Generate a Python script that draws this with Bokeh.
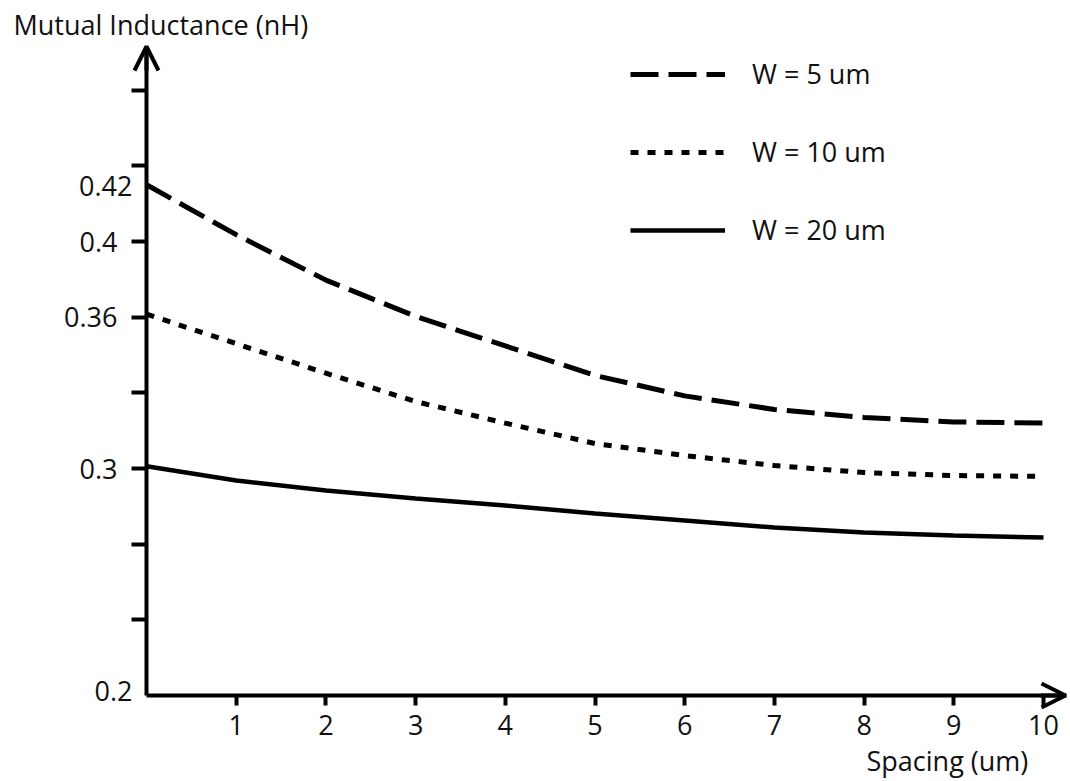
from bokeh.plotting import figure
from bokeh.models import Range1d, FixedTicker, Label, Arrow, OpenHead, Legend, LegendItem
from bokeh.embed import file_html
from bokeh.resources import INLINE

# ---- data ----
spacing_um = [0, 1, 2, 3, 4, 5, 6, 7, 8, 9, 10]
m_w5 = [0.425, 0.403, 0.383, 0.367, 0.354, 0.341, 0.332, 0.326, 0.3225, 0.3205, 0.320]
m_w10 = [0.368, 0.355, 0.342, 0.3295, 0.320, 0.311, 0.3057, 0.3013, 0.2982, 0.2969, 0.2965]
m_w20 = [0.301, 0.2947, 0.2903, 0.2868, 0.2837, 0.2802, 0.2771, 0.2740, 0.2718, 0.2705, 0.2696]
series_names = ["W = 5 um", "W = 10 um", "W = 20 um"]

x_ticks = [1, 2, 3, 4, 5, 6, 7, 8, 9, 10]
y_ticks = [round(0.2 + k / 30, 6) for k in range(1, 9)]
y_tick_labels = ["", "", "0.3", "", "0.36", "0.4", "", ""]
y_extra_labels = ["0.2", "0.42"]

x_title = "Spacing (um)"
y_title = "Mutual Inductance (nH)"

# ---- layout helpers (canvas pixel -> data); the frame fills the canvas ----
AX_LEFT, AX_BOTTOM = 146, 695
X_PX, Y_PX = 89.7, 2270.0


def px_x(px):
    return (px - AX_LEFT) / X_PX


def px_y(py):
    return 0.2 + (AX_BOTTOM - py) / Y_PX


y_extra_pos = [px_y(690), px_y(185)]

FONT = "Open Sans"
FS = "27px"
TXT = "#111111"

p = figure(width=1070, height=781,
           x_range=Range1d(px_x(0), px_x(1070)), y_range=Range1d(px_y(781), px_y(0)),
           output_backend="svg", toolbar_location=None,
           min_border_left=0, min_border_right=0,
           min_border_top=0, min_border_bottom=0)
p.outline_line_color = None
p.grid.visible = False
p.background_fill_color = "white"
p.border_fill_color = "white"

r5 = p.line(spacing_um, m_w5, line_color="black", line_width=5, line_dash="28 10")
r10 = p.line(spacing_um, m_w10, line_color="black", line_width=5, line_dash="8 9")
r20 = p.line(spacing_um, m_w20, line_color="black", line_width=4.5)

for ax in (p.xaxis, p.yaxis):
    ax.axis_line_width = 4
    ax.axis_line_color = "black"
    ax.major_tick_line_width = 4
    ax.major_tick_line_color = "black"
    ax.major_tick_in = 0
    ax.minor_tick_line_color = None
    ax.major_label_text_font = FONT
    ax.major_label_text_font_size = FS
    ax.major_label_text_color = TXT

p.xaxis.fixed_location = 0.2
p.xaxis.bounds = (0, px_x(1066))
p.xaxis.ticker = FixedTicker(ticks=x_ticks)
p.xaxis.major_tick_out = 10
p.xaxis.major_label_standoff = 9

p.yaxis.fixed_location = 0
p.yaxis.bounds = (0.2, px_y(46))
p.yaxis.ticker = FixedTicker(ticks=y_ticks)
p.yaxis.major_tick_out = 15
p.yaxis.major_label_standoff = 14
p.yaxis.major_label_overrides = dict(zip(y_ticks, y_tick_labels))

for txt, val in zip(y_extra_labels, y_extra_pos):
    p.add_layout(Label(x=px_x(132), y=val, text=txt, text_align="right",
                       text_baseline="middle", text_font=FONT,
                       text_font_size=FS, text_color=TXT))

p.add_layout(Label(x=px_x(13), y=px_y(24), text=y_title, text_align="left",
                   text_baseline="middle", text_font=FONT, text_font_size=FS,
                   text_color=TXT))
p.add_layout(Label(x=px_x(866), y=px_y(760), text=x_title, text_align="left",
                   text_baseline="middle", text_font=FONT, text_font_size=FS,
                   text_color=TXT))

# axis arrow heads
p.add_layout(Arrow(end=OpenHead(size=24, line_width=4, line_color="black"),
                   x_start=0, y_start=px_y(70), x_end=0, y_end=px_y(46),
                   line_width=4, line_color="black"))
p.add_layout(Arrow(end=OpenHead(size=24, line_width=4, line_color="black"),
                   x_start=px_x(1040), y_start=0.2, x_end=px_x(1065), y_end=0.2,
                   line_width=4, line_color="black"))

legend = Legend(items=[LegendItem(label=n, renderers=[r]) for n, r in
                       zip(series_names, [r5, r10, r20])],
                location=(630, 533), glyph_width=95, glyph_height=30,
                label_height=30, spacing=41, label_standoff=27, padding=0,
                margin=0, border_line_color=None, background_fill_alpha=0,
                label_text_font=FONT, label_text_font_size=FS,
                label_text_color=TXT)
p.add_layout(legend)

open("out.html", "w").write(file_html(p, INLINE))
